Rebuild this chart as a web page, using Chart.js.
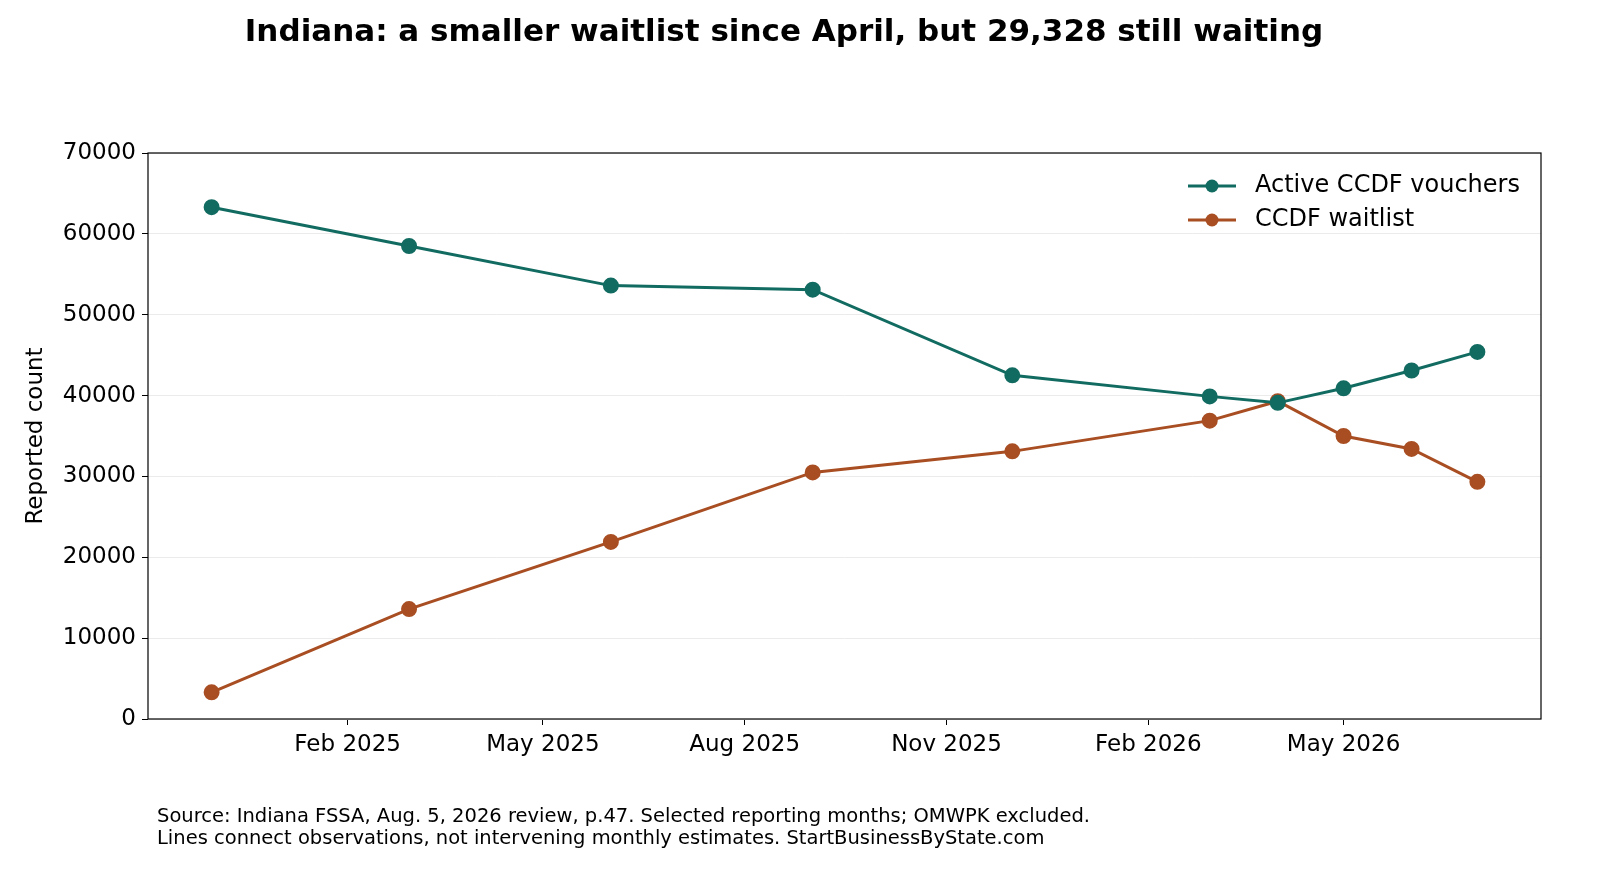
<!DOCTYPE html>
<html>
<head>
<meta charset="utf-8">
<script src="https://cdn.jsdelivr.net/npm/chart.js@4/dist/chart.umd.min.js"></script>
<style>
  html, body { margin: 0; padding: 0; background: #fff; }
  #wrap { width: 1600px; height: 880px; }
</style>
</head>
<body>
<div id="wrap"><canvas id="chart" width="1600" height="880"></canvas></div>
<script>
const dates = ["2024-12-01", "2025-03-01", "2025-06-01", "2025-09-01", "2025-12-01",
  "2026-03-01", "2026-04-01", "2026-05-01", "2026-06-01", "2026-07-01"];
const activeVouchers = [63300, 58500, 53600, 53100, 42500, 39900, 39100, 40900, 43100, 45400];
const waitlist = [3300, 13600, 21900, 30500, 33100, 36900, 39300, 35000, 33400, 29328];
const tickDates = ["2025-02-01", "2025-05-01", "2025-08-01", "2025-11-01", "2026-02-01", "2026-05-01"];
const tickLabels = ["Feb 2025", "May 2025", "Aug 2025", "Nov 2025", "Feb 2026", "May 2026"];
const xMinDate = "2024-11-02";
const xMaxDate = "2026-07-30";

const day = s => Date.parse(s + "T00:00:00Z") / 86400000;
const FONT = "'DejaVu Sans', sans-serif";

const overlay = {
  id: "overlay",
  afterDraw(chart) {
    const { ctx, chartArea: a } = chart;
    ctx.save();
    ctx.strokeStyle = "#000";
    ctx.lineWidth = 1.2;
    ctx.strokeRect(a.left, a.top, a.right - a.left, a.bottom - a.top);

    ctx.fillStyle = "#000";
    ctx.font = "bold 31px " + FONT;
    ctx.textAlign = "center";
    ctx.textBaseline = "middle";
    ctx.fillText("Indiana: a smaller waitlist since April, but 29,328 still waiting", 784, 33);

    ctx.font = "19.5px " + FONT;
    ctx.textAlign = "left";
    ctx.fillText("Source: Indiana FSSA, Aug. 5, 2026 review, p.47. Selected reporting months; OMWPK excluded.", 157, 817);
    ctx.fillText("Lines connect observations, not intervening monthly estimates. StartBusinessByState.com", 157, 839);

    // legend
    ctx.font = "24px " + FONT;
    chart.data.datasets.forEach((ds, i) => {
      const y = 186 + i * 34;
      ctx.strokeStyle = ds.borderColor;
      ctx.lineWidth = 3;
      ctx.beginPath(); ctx.moveTo(1188, y); ctx.lineTo(1236, y); ctx.stroke();
      ctx.fillStyle = ds.borderColor;
      ctx.beginPath(); ctx.arc(1212, y, 6.5, 0, Math.PI * 2); ctx.fill();
      ctx.fillStyle = "#000";
      ctx.fillText(ds.label, 1255, y);
    });
    ctx.restore();
  }
};

new Chart(document.getElementById("chart"), {
  type: "line",
  data: {
    datasets: [
      {
        label: "Active CCDF vouchers",
        data: dates.map((d, i) => ({ x: day(d), y: activeVouchers[i] })),
        borderColor: "#126b61", backgroundColor: "#126b61",
        borderWidth: 3, pointRadius: 6.5, pointHoverRadius: 6.5
      },
      {
        label: "CCDF waitlist",
        data: dates.map((d, i) => ({ x: day(d), y: waitlist[i] })),
        borderColor: "#a84e22", backgroundColor: "#a84e22",
        borderWidth: 3, pointRadius: 6.5, pointHoverRadius: 6.5
      }
    ]
  },
  options: {
    responsive: false,
    animation: false,
    devicePixelRatio: 1,
    layout: { padding: { top: 153, left: 22, right: 59, bottom: 111 } },
    plugins: { legend: { display: false }, tooltip: { enabled: false } },
    scales: {
      x: {
        type: "linear",
        min: day(xMinDate), max: day(xMaxDate),
        afterBuildTicks(scale) { scale.ticks = tickDates.map(d => ({ value: day(d) })); },
        afterFit(scale) { scale.height = 50; },
        ticks: {
          color: "#000", font: { family: FONT, size: 23 }, padding: 6, maxRotation: 0,
          callback(v) { const i = tickDates.findIndex(d => day(d) === v); return i >= 0 ? tickLabels[i] : ""; }
        },
        grid: { drawOnChartArea: false, tickLength: 6, color: "#000" },
        border: { display: false }
      },
      y: {
        min: 0, max: 70000,
        afterFit(scale) { scale.width = 126; },
        ticks: {
          stepSize: 10000, color: "#000", font: { family: FONT, size: 23 }, padding: 6,
          callback: v => String(v)
        },
        grid: { color: "#ebebeb", lineWidth: 1, tickColor: "#000", tickLength: 6 },
        border: { display: false },
        title: { display: true, text: "Reported count", color: "#000", font: { family: FONT, size: 23 }, padding: { top: 0, bottom: 0 } }
      }
    }
  },
  plugins: [overlay]
});
</script>
</body>
</html>
